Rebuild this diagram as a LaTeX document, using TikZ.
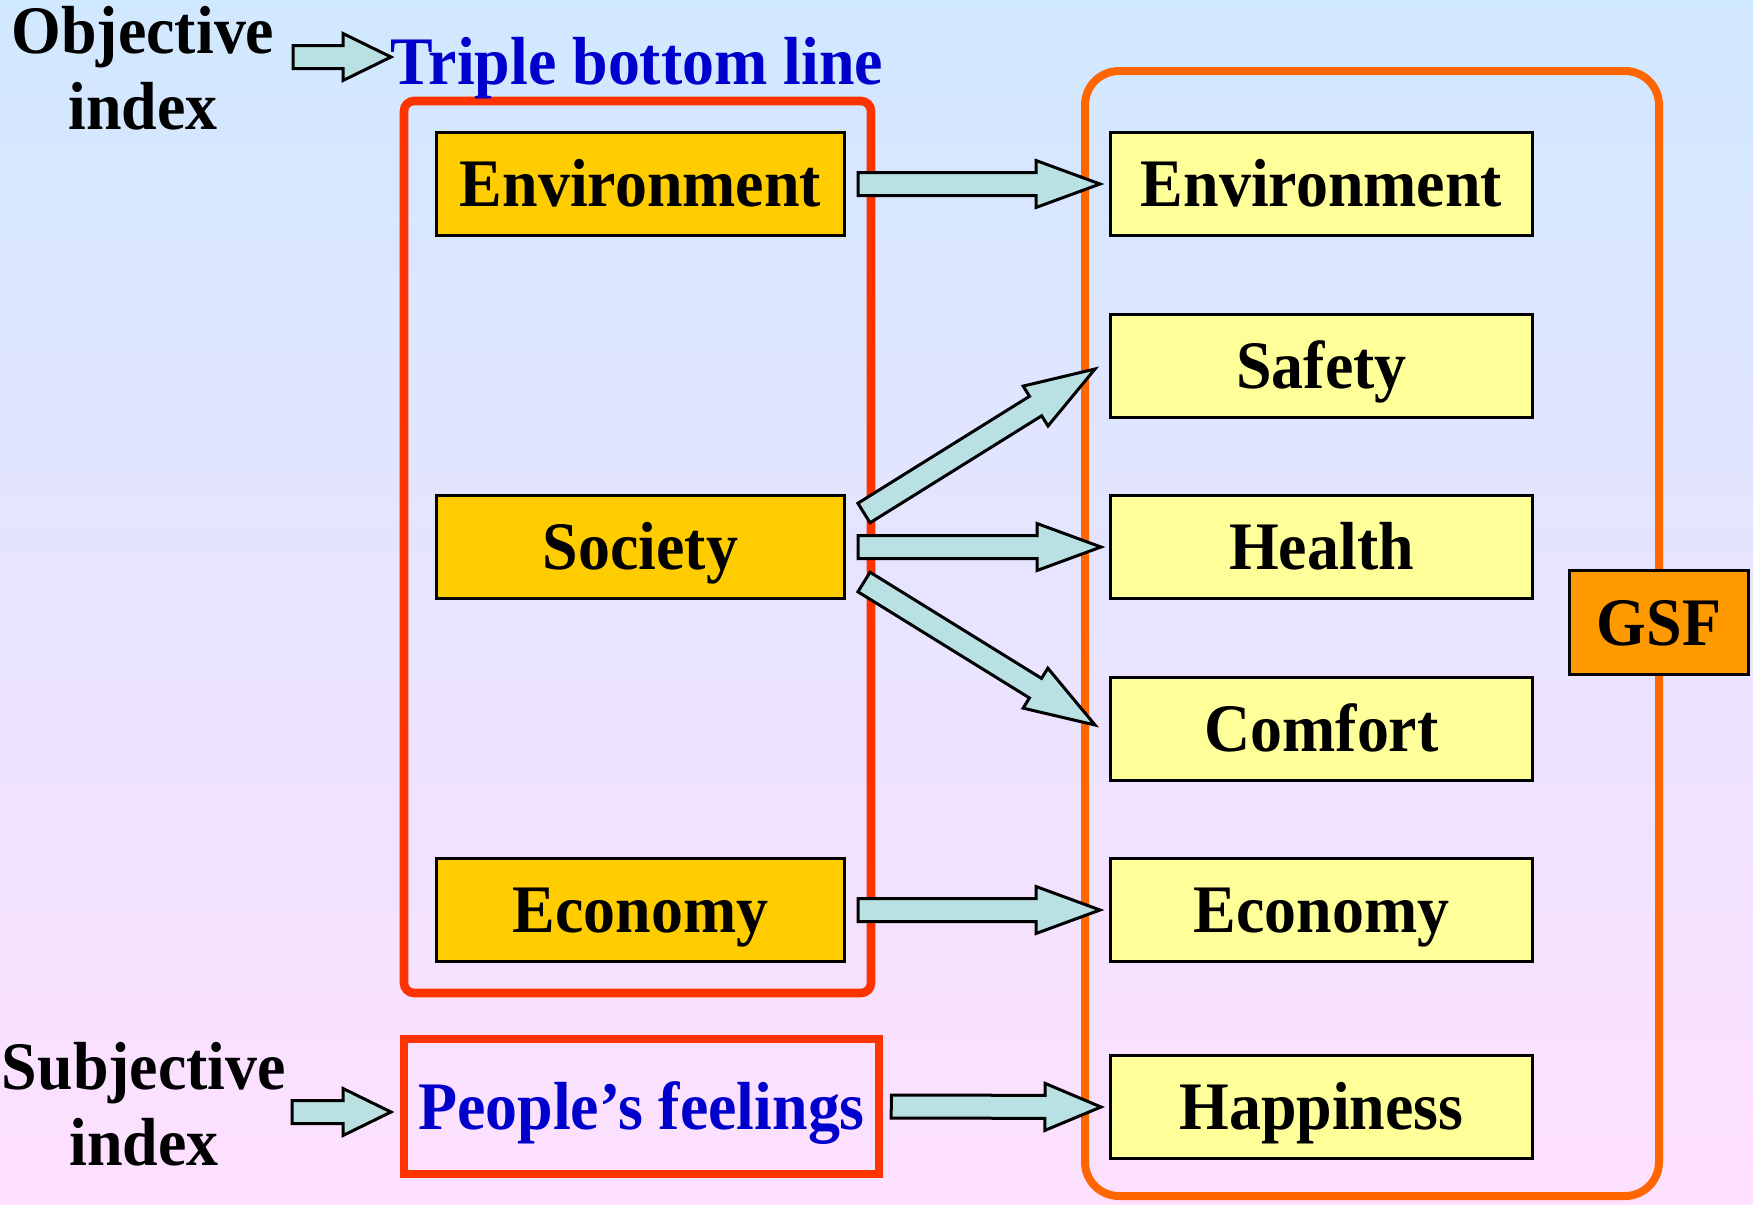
\documentclass[tikz,border=0pt]{standalone}
\usepackage{fontspec}
\setmainfont{Liberation Serif}[FakeStretch=0.94]
\usetikzlibrary{calc}
\definecolor{bgtop}{RGB}{208,232,255}
\definecolor{bgbot}{RGB}{255,224,255}
\definecolor{grpred}{RGB}{255,51,0}
\definecolor{grporange}{RGB}{255,102,0}
\definecolor{boxgold}{RGB}{255,204,0}
\definecolor{boxyellow}{RGB}{255,255,153}
\definecolor{gsforange}{RGB}{255,153,0}
\definecolor{arrowfill}{RGB}{185,224,226}
\definecolor{textblue}{RGB}{0,0,204}
\newcommand\blockarrow[3]{%
  \coordinate (bahead) at ($(#2)!#3!(#1)$);
  \filldraw[arrowstyle] ($(#1)!5.75pt!90:(#2)$) -- ($(bahead)!5.75pt!90:(#2)$) -- ($(bahead)!11.75pt!90:(#2)$) -- (#2) -- ($(bahead)!11.75pt!-90:(#2)$) -- ($(bahead)!5.75pt!-90:(#2)$) -- ($(#1)!5.75pt!-90:(#2)$) -- cycle;
}
\begin{document}
\begin{tikzpicture}[x=0.5pt,y=-0.5pt,
  bigfont/.style={font=\bfseries\fontsize{34pt}{38pt}\selectfont},
  txt/.style={bigfont, inner sep=0pt},
  boxbase/.style={bigfont, draw=black, line width=1.5pt, inner sep=0pt, text height=22.5pt, text depth=0pt, minimum height=51.5pt},
  leftbox/.style={boxbase, fill=boxgold, minimum width=204pt},
  rightbox/.style={boxbase, fill=boxyellow, minimum width=211pt},
  gsfbox/.style={boxbase, fill=gsforange, minimum width=89.5pt, minimum height=52pt},
  redgroup/.style={draw=grpred, line width=4.3pt, rounded corners=5pt, inner sep=0pt},
  orangegroup/.style={draw=grporange, line width=4pt, rounded corners=17pt, inner sep=0pt},
  peoplebox/.style={bigfont, draw=grpred, line width=4.25pt, inner sep=0pt, text=textblue, text height=22.5pt, text depth=0pt, minimum width=237.5pt, minimum height=67.5pt},
  arrowstyle/.style={fill=arrowfill, draw=black, line width=1.5pt, line join=miter}
]
\useasboundingbox (0,0) rectangle (1753,1205);
\fill[top color=bgtop, bottom color=bgbot] (0,0) rectangle (1753,1205);

% groups
\node[redgroup, minimum width=233.5pt, minimum height=446pt] (tbl) at (637.5,547) {};
\node[orangegroup, minimum width=287pt, minimum height=562.5pt] (gsfgroup) at (1372,633.5) {};

% left texts
\node[txt, align=center, anchor=base] (obj) at (143,129) {Objective\\index};
\node[txt, align=center, anchor=base] (subj) at (144,1165) {Subjective\\index};
\node[txt, text=textblue, anchor=base] (triple) at (637,84) {Triple bottom line};

% left boxes
\node[leftbox] (envL) at (640.5,184) {Environment};
\node[leftbox] (socL) at (640.5,547) {Society};
\node[leftbox] (ecoL) at (640.5,910) {Economy};
\node[peoplebox] (people) at (641.5,1106.5) {People’s feelings};

% right boxes
\node[rightbox] (envR) at (1321.5,184) {Environment};
\node[rightbox] (safR) at (1321.5,365.5) {Safety};
\node[rightbox] (heaR) at (1321.5,547) {Health};
\node[rightbox] (comR) at (1321.5,728.5) {Comfort};
\node[rightbox] (ecoR) at (1321.5,910) {Economy};
\node[rightbox] (hapR) at (1321.5,1107) {Happiness};
\node[gsfbox] (gsf) at (1659,622.5) {GSF};

% arrow end points
\coordinate (objA) at (293,57);
\coordinate (objB) at (391,57);
\coordinate (subA) at (292,1112);
\coordinate (subB) at (391,1112);
\coordinate (envA) at ($(envL.east)+(12,0)$);
\coordinate (envB) at ($(envR.west)+(-9,0)$);
\coordinate (heaA) at ($(socL.east)+(12,0)$);
\coordinate (heaB) at ($(heaR.west)+(-8,0)$);
\coordinate (ecoA) at ($(ecoL.east)+(12,0)$);
\coordinate (ecoB) at ($(ecoR.west)+(-9,0)$);
\coordinate (safA) at ($(socL.east)+(18,-34)$);
\coordinate (safB) at ($(safR.west)+(-14,3.5)$);
\coordinate (comA) at ($(socL.east)+(18,35)$);
\coordinate (comB) at ($(comR.west)+(-14,-3.5)$);
\coordinate (hapA) at ($(people.east)+(8,0)$);
\coordinate (hapB) at ($(hapR.west)+(-8,0)$);

\blockarrow{objA}{objB}{24pt}
\blockarrow{subA}{subB}{24pt}
\blockarrow{envA}{envB}{32pt}
\blockarrow{heaA}{heaB}{32pt}
\blockarrow{ecoA}{ecoB}{32pt}
\blockarrow{safA}{safB}{35pt}
\blockarrow{comA}{comB}{35pt}
\blockarrow{hapA}{hapB}{28pt}
\end{tikzpicture}
\end{document}
